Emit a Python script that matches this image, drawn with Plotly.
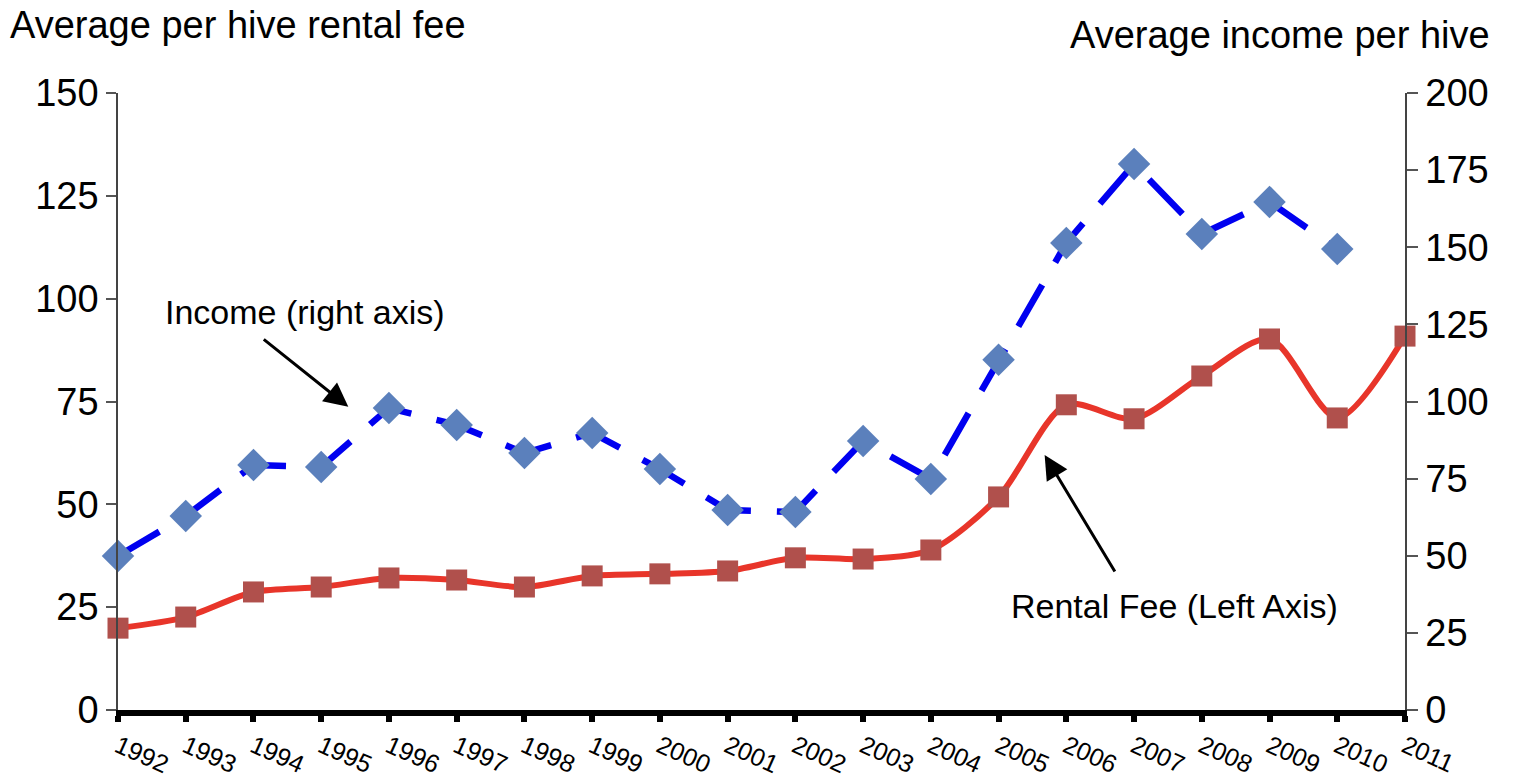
import plotly.graph_objects as go

years = list(range(1992, 2012))
rental_fee = [19.9, 22.6, 28.7, 29.9, 32.1, 31.6, 29.9, 32.6, 33.1, 33.8,
              37.0, 36.7, 38.9, 51.8, 74.2, 70.8, 81.2, 90.2, 71.0, 90.9]
income_years = list(range(1992, 2011))
income = [49.9, 62.9, 79.4, 78.8, 97.9, 92.4, 83.3, 89.8, 78.1, 64.8,
          64.2, 87.2, 74.9, 113.5, 151.4, 177.0, 154.3, 164.7, 149.4]
left_ticks = [0, 25, 50, 75, 100, 125, 150]
right_ticks = [0, 25, 50, 75, 100, 125, 150, 175, 200]

FONT = "Liberation Sans, Arial, sans-serif"

fig = go.Figure()
fig.add_trace(go.Scatter(
    x=years, y=rental_fee, mode="lines+markers", name="Rental Fee",
    line=dict(color="#E8352A", width=6, shape="spline", smoothing=0.8),
    marker=dict(symbol="square", size=21, color="#B0504C"),
    cliponaxis=False, yaxis="y",
))
fig.add_trace(go.Scatter(
    x=income_years, y=income, mode="lines+markers", name="Income",
    line=dict(color="#0000F0", width=6.5, dash="48px,26px"),
    marker=dict(symbol="diamond", size=25, color="#5B80BC"),
    cliponaxis=False, yaxis="y2",
))

fig.update_layout(
    width=1520, height=783,
    margin=dict(l=118, r=115, t=93, b=73, autoexpand=False),
    paper_bgcolor="white", plot_bgcolor="white",
    showlegend=False,
    font=dict(family=FONT, color="black"),
    xaxis=dict(
        range=[1992, 2011], tickmode="array", tickvals=years,
        ticktext=[str(y) for y in years], tickangle=24, automargin=False,
        showgrid=False, zeroline=False, showline=True, linecolor="black", linewidth=6,
        ticks="outside", ticklen=6, tickwidth=6, tickcolor="black",
        tickfont=dict(size=25, family=FONT),
    ),
    yaxis=dict(
        range=[0, 150], tickvals=left_ticks, automargin=False,
        showgrid=False, zeroline=False, showline=True, linecolor="#444", linewidth=1.5,
        ticks="outside", ticklen=10, tickwidth=1.5, tickcolor="#555",
        tickfont=dict(size=38, family=FONT),
    ),
    yaxis2=dict(
        range=[0, 200], tickvals=right_ticks, overlaying="y", side="right", automargin=False,
        showgrid=False, zeroline=False, showline=True, linecolor="#444", linewidth=1.5,
        ticks="outside", ticklen=11, tickwidth=1.5, tickcolor="#555",
        tickfont=dict(size=38, family=FONT),
    ),
    annotations=[
        dict(text="Average per hive rental fee", xref="paper", yref="paper",
             x=-0.0855, y=1.110, xanchor="left", yanchor="middle", showarrow=False,
             font=dict(size=38, family=FONT)),
        dict(text="Average income per hive", xref="paper", yref="paper",
             x=1.0676, y=1.094, xanchor="right", yanchor="middle", showarrow=False,
             font=dict(size=38, family=FONT)),
        dict(text="Income (right axis)", xref="x", yref="y",
             x=1994.76, y=96.8, xanchor="center", yanchor="middle", showarrow=False,
             font=dict(size=34, family=FONT)),
        dict(text="Rental Fee (Left Axis)", xref="x", yref="y",
             x=2007.60, y=25.3, xanchor="center", yanchor="middle", showarrow=False,
             font=dict(size=34, family=FONT)),
        dict(x=1995.40, y=73.7, ax=1994.13, ay=90.4, xref="x", yref="y",
             axref="x", ayref="y", text="", showarrow=True,
             arrowhead=2, arrowsize=1.6, arrowwidth=3, arrowcolor="black"),
        dict(x=2005.68, y=62.0, ax=2006.73, ay=33.3, xref="x", yref="y",
             axref="x", ayref="y", text="", showarrow=True,
             arrowhead=2, arrowsize=1.6, arrowwidth=3, arrowcolor="black"),
    ],
)

fig.write_html(
    "out.html",
    config={"displayModeBar": False},
    post_script="document.body.style.margin='0';document.body.style.overflow='hidden';",
)
